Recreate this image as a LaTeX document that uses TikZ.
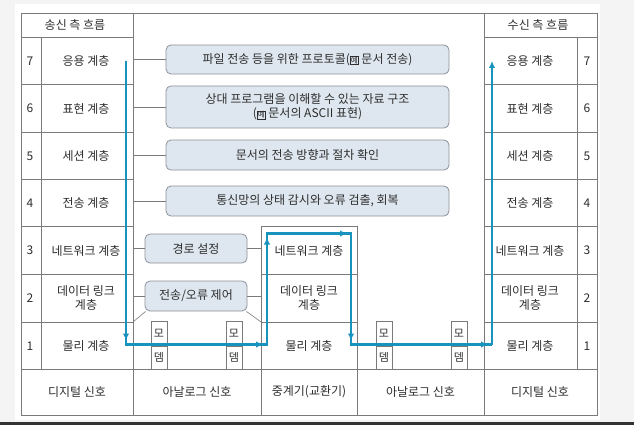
\documentclass[tikz,border=0pt]{standalone}
\usepackage{fontspec}
\setmainfont{Noto Sans CJK KR}
\usetikzlibrary{positioning,arrows.meta}
\definecolor{flowblue}{HTML}{1893BD}
\definecolor{boxfill}{HTML}{DEE7EF}
\definecolor{boxline}{HTML}{8C9197}
\definecolor{tabline}{HTML}{7A7A7A}
\definecolor{txt}{HTML}{2E2E2E}
\newcommand{\yebox}{{\setlength{\fboxsep}{0.4pt}\setlength{\fboxrule}{0.6pt}\fbox{\fontsize{7.5}{7.5}\selectfont 예}}}
\tikzset{
  tab/.style={draw=tabline, line width=0.6pt},
  link/.style={draw=tabline, line width=0.6pt},
  cell/.style={text=txt, font=\fontsize{12}{14}\selectfont, align=center, inner sep=1pt},
  num/.style={text=txt, font=\fontsize{12}{14}\selectfont, inner sep=1pt},
  func/.style={draw=boxline, fill=boxfill, rounded corners=5pt, line width=0.8pt,
    text=txt, font=\fontsize{12}{14}\selectfont, align=center, inner sep=2pt},
  modem/.style={draw=tabline, line width=0.6pt, minimum width=16pt, minimum height=23.5pt,
    inner sep=0pt, text=txt, font=\fontsize{11}{12}\selectfont},
  flow/.style={draw=flowblue, line width=2.6pt},
  flowtip/.style={flow, shorten >=4pt, -{Latex[length=7pt,width=6.5pt]}}
}
\begin{document}
\begin{tikzpicture}[x=1pt,y=-1pt]
\useasboundingbox (0,0) rectangle (634,425);
\fill[gray!9] (0,0) rectangle (634,425);
\fill[white] (15,4) rectangle (600,420);
\fill[black!80] (0,422) rectangle (634,425);

% table frame
\draw[tab] (21,13) rectangle (597,415);
\draw[tab] (133,13) -- (133,415);
\draw[tab] (484,13) -- (484,415);
\draw[tab] (41,37) -- (41,369);
\draw[tab] (577,37) -- (577,369);
\draw[tab] (21,37) -- (133,37);
\draw[tab] (484,37) -- (597,37);
\foreach \y in {84,132,179,226,274,322} {
  \draw[tab] (21,\y) -- (133,\y);
  \draw[tab] (484,\y) -- (597,\y);
}
\draw[tab] (21,369) -- (597,369);
% relay column
\draw[tab] (261,226) -- (261,415);
\draw[tab] (357,226) -- (357,415);
\draw[tab] (261,226) -- (357,226);
\draw[tab] (261,274) -- (357,274);
\draw[tab] (261,322) -- (357,322);

\coordinate (lcol) at (133,0);
\coordinate (relayw) at (261,0);
\coordinate (lpt) at (133,322);
\coordinate (rpt) at (261,322);

% headers
\node[cell] (shead) at (75,25) {송신 측 흐름};
\node[cell] (rhead) at (538,25) {수신 측 흐름};

% layers
\foreach \n/\y/\t in {7/61/응용 계층, 6/108.5/표현 계층, 5/156/세션 계층, 4/203/전송 계층,
  3/250.5/네트워크 계층, 2/298/{데이터 링크\\계층}, 1/346/물리 계층} {
  \node[num] (sn\n) at (30,\y) {\n};
  \node[cell] (sl\n) at (86,\y) {\t};
  \node[cell] (rl\n) at (530,\y) {\t};
  \node[num] (rn\n) at (587,\y) {\n};
}

% relay layers
\node[cell] (relay3) at (309,250.5) {네트워크 계층};
\node[cell] (relay2) at (309,298) {데이터 링크\\계층};
\node[cell] (relay1) at (309,346) {물리 계층};

% bottom row
\node[cell] (dig1) at (77,392) {디지털 신호};
\node[cell] (ana1) at (197,392) {아날로그 신호};
\node[cell] (relay) at (309,392) {중계기(교환기)};
\node[cell] (ana2) at (420.5,392) {아날로그 신호};
\node[cell] (dig2) at (540,392) {디지털 신호};

% functions
\node[func, minimum width=283pt, minimum height=29pt] (f7) at (307.5,59.5) {파일 전송 등을 위한 프로토콜(\yebox\ 문서 전송)};
\node[func, minimum width=283pt, minimum height=42pt] (f6) at (307.5,107) {상대 프로그램을 이해할 수 있는 자료 구조\\(\yebox\ 문서의 ASCII 표현)};
\node[func, minimum width=283pt, minimum height=30pt] (f5) at (307.5,155) {문서의 전송 방향과 절차 확인};
\node[func, minimum width=283pt, minimum height=30pt] (f4) at (307.5,201) {통신망의 상태 감시와 오류 검출, 회복};
\node[func, minimum width=102pt, minimum height=29pt] (f3) at (196,248.5) {경로 설정};
\node[func, minimum width=102pt, minimum height=30pt] (f2) at (196,296) {전송/오류 제어};

\foreach \f in {f7,f6,f5,f4,f3,f2}
  \draw[link] (\f.west) -- (\f.west -| lcol);
\draw[link] (f3.east) -- (f3.east -| relayw);
\draw[link] (f2.east) -- (f2.east -| relayw);
\draw[link] ([xshift=1pt]f2.south west) -- (lpt);
\draw[link] ([xshift=-1pt]f2.south east) -- (rpt);

% modems
\foreach \m/\x in {m1/159,m2/234,m3/384,m4/459} {
  \node[modem, anchor=south] (\m a) at (\x,345.5) {모};
  \node[modem, anchor=north] (\m b) at (\x,345.5) {뎀};
}

% data flow
\coordinate (pa) at (126,61);
\coordinate (pb) at (126,344.5);
\coordinate (pc) at (267,344.5);
\coordinate (pd) at (267,233.5);
\coordinate (pe) at (351,233.5);
\coordinate (pf) at (351,344.5);
\coordinate (pg) at (492,344.5);
\coordinate (ph) at (492,61);
\draw[flow] (pa) -- (pb) -- (pc) -- (pd) -- (pe) -- (pf) -- (pg);
\foreach \p/\q in {pa/pb,pb/pc,pc/pd,pd/pe,pe/pf,pf/pg}
  \draw[flowtip] (\p) -- (\q);
\draw[flow, -{Latex[length=7pt,width=6.5pt]}] (pg) -- (ph);
\end{tikzpicture}
\end{document}
